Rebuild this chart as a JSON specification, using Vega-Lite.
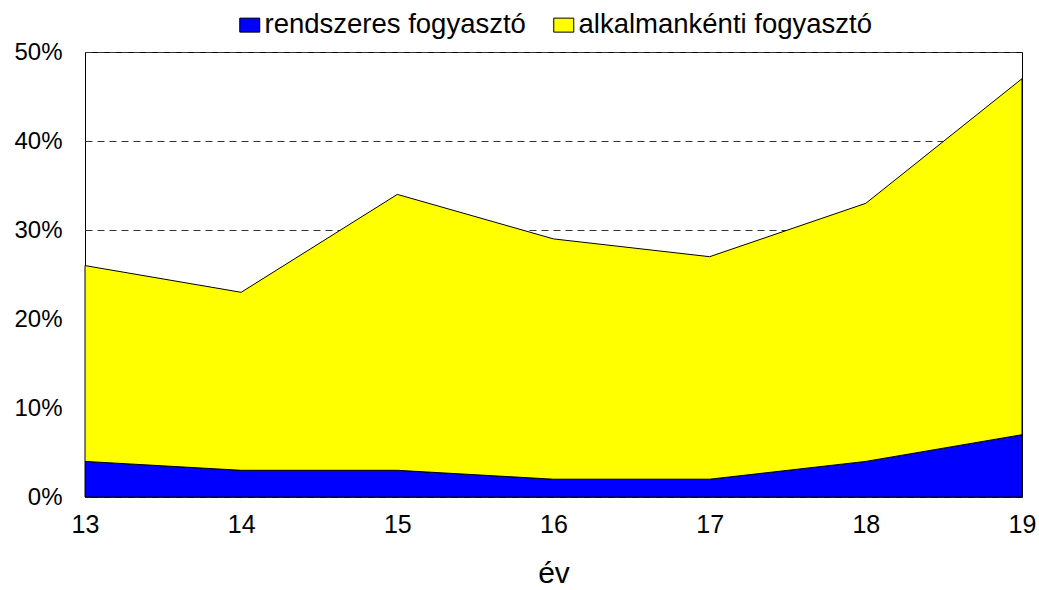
{
  "$schema": "https://vega.github.io/schema/vega-lite/v6.json",
  "width": 937,
  "height": 445,
  "autosize": {"type": "none"},
  "padding": {"left": 85, "top": 52, "right": 17, "bottom": 93},
  "background": "white",
  "config": {
    "font": "Liberation Sans",
    "view": {"stroke": "black", "strokeWidth": 1}
  },
  "data": {
    "values": [
      {"ev": 13, "sorozat": "rendszeres fogyasztó", "ertek": 4},
      {"ev": 14, "sorozat": "rendszeres fogyasztó", "ertek": 3},
      {"ev": 15, "sorozat": "rendszeres fogyasztó", "ertek": 3},
      {"ev": 16, "sorozat": "rendszeres fogyasztó", "ertek": 2},
      {"ev": 17, "sorozat": "rendszeres fogyasztó", "ertek": 2},
      {"ev": 18, "sorozat": "rendszeres fogyasztó", "ertek": 4},
      {"ev": 19, "sorozat": "rendszeres fogyasztó", "ertek": 7},
      {"ev": 13, "sorozat": "alkalmankénti fogyasztó", "ertek": 22},
      {"ev": 14, "sorozat": "alkalmankénti fogyasztó", "ertek": 20},
      {"ev": 15, "sorozat": "alkalmankénti fogyasztó", "ertek": 31},
      {"ev": 16, "sorozat": "alkalmankénti fogyasztó", "ertek": 27},
      {"ev": 17, "sorozat": "alkalmankénti fogyasztó", "ertek": 25},
      {"ev": 18, "sorozat": "alkalmankénti fogyasztó", "ertek": 29},
      {"ev": 19, "sorozat": "alkalmankénti fogyasztó", "ertek": 40}
    ]
  },
  "mark": {"type": "area", "stroke": "black", "strokeWidth": 1, "opacity": 1, "fillOpacity": 1},
  "encoding": {
    "x": {
      "field": "ev",
      "type": "quantitative",
      "scale": {"domain": [13, 19], "nice": false, "zero": false},
      "axis": {
        "values": [13, 14, 15, 16, 17, 18, 19],
        "format": "d",
        "title": "év",
        "grid": false,
        "ticks": false,
        "domain": false,
        "labelFlush": false,
        "labelFontSize": 25,
        "labelColor": "black",
        "labelPadding": 15,
        "titleFontSize": 30,
        "titleFontWeight": "normal",
        "titleColor": "black",
        "titlePadding": 21
      }
    },
    "y": {
      "field": "ertek",
      "type": "quantitative",
      "stack": "zero",
      "scale": {"domain": [0, 50], "nice": false},
      "axis": {
        "values": [0, 10, 20, 30, 40, 50],
        "labelExpr": "datum.value + '%'",
        "title": null,
        "ticks": false,
        "domain": false,
        "grid": true,
        "gridColor": "#333333",
        "gridDash": [7, 5],
        "gridWidth": 1,
        "labelFontSize": 24,
        "labelColor": "black",
        "labelPadding": 23
      }
    },
    "color": {
      "field": "sorozat",
      "type": "nominal",
      "scale": {
        "domain": ["rendszeres fogyasztó", "alkalmankénti fogyasztó"],
        "range": ["#0000ff", "#ffff00"]
      },
      "legend": {
        "orient": "none",
        "direction": "horizontal",
        "legendX": 151,
        "legendY": -41,
        "title": null,
        "padding": 0,
        "symbolType": "M-1,-0.7H1V0.7H-1Z",
        "symbolSize": 400,
        "symbolStrokeColor": "black",
        "symbolStrokeWidth": 1,
        "symbolOpacity": 1,
        "labelFontSize": 27.5,
        "labelColor": "black",
        "labelOffset": 1,
        "columnPadding": 24,
        "labelLimit": 500
      }
    },
    "order": {"field": "sorozat", "sort": "descending"}
  }
}
